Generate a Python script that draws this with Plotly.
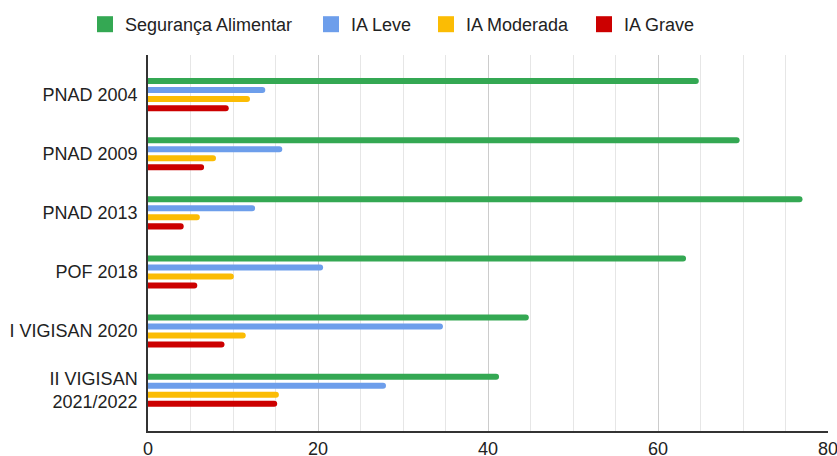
import plotly.graph_objects as go

categories = ["PNAD 2004", "PNAD 2009", "PNAD 2013", "POF 2018", "I VIGISAN 2020", "II VIGISAN<br>2021/2022"]
series_names = ["Segurança Alimentar", "IA Leve", "IA Moderada", "IA Grave"]
seguranca = [64.8, 69.6, 77.0, 63.3, 44.8, 41.3]
ia_leve = [13.8, 15.8, 12.6, 20.6, 34.7, 28.0]
ia_moderada = [12.0, 8.0, 6.1, 10.1, 11.5, 15.4]
ia_grave = [9.5, 6.6, 4.2, 5.8, 9.0, 15.2]
colors = ["#34A853", "#6D9EEB", "#FBBC04", "#CC0000"]
x_ticks = [0, 20, 40, 60, 80]

fig = go.Figure()
for name, vals, col in zip(series_names, [seguranca, ia_leve, ia_moderada, ia_grave], colors):
    fig.add_trace(go.Bar(
        y=categories, x=vals, name=name, orientation="h", showlegend=False,
        marker=dict(color=col, line=dict(width=0), cornerradius=3),
    ))

legend_ids = ["legend", "legend2", "legend3", "legend4"]
legend_left_px = [85, 311, 426, 584]
# legend entries with larger square swatches, one legend box per entry
for name, col, lid in zip(series_names, colors, legend_ids):
    fig.add_trace(go.Scatter(
        x=[None], y=[None], mode="markers", name=name, legend=lid,
        marker=dict(symbol="square", size=16, color=col),
    ))

font = "Arial, Liberation Sans, sans-serif"
legend_common = dict(orientation="h", xref="container", xanchor="left",
                     y=1 - 6 / 456, yref="container", yanchor="top",
                     font=dict(size=18, color="#222222"), itemwidth=30,
                     bgcolor="rgba(0,0,0,0)")
legends = {lid: dict(legend_common, x=px / 837) for lid, px in zip(legend_ids, legend_left_px)}

fig.update_layout(
    width=837, height=456,
    margin=dict(l=148, r=9, t=55, b=25),
    paper_bgcolor="white", plot_bgcolor="white",
    barmode="group", bargap=0.39, bargroupgap=0.333,
    font=dict(family=font, size=18, color="#222222"),
    **legends,
    xaxis=dict(range=[0, 80], tickvals=x_ticks, showgrid=True, gridcolor="#cccccc",
               gridwidth=1, minor=dict(dtick=5, showgrid=True, gridcolor="#e6e6e6", gridwidth=1),
               showline=True, linecolor="#333333", linewidth=1.5, zeroline=False,
               ticks="", ticklabelstandoff=1, automargin=False, ticklabeloverflow="allow",
               tickfont=dict(size=18, color="#222222")),
    yaxis=dict(categoryorder="array", categoryarray=categories,
               range=[5.69, -0.67], showgrid=False, showline=True, linecolor="#333333",
               linewidth=1.5, ticks="", ticklabelstandoff=5, automargin=False,
               tickfont=dict(size=18, color="#222222")),
)
fig.write_html("out.html")
